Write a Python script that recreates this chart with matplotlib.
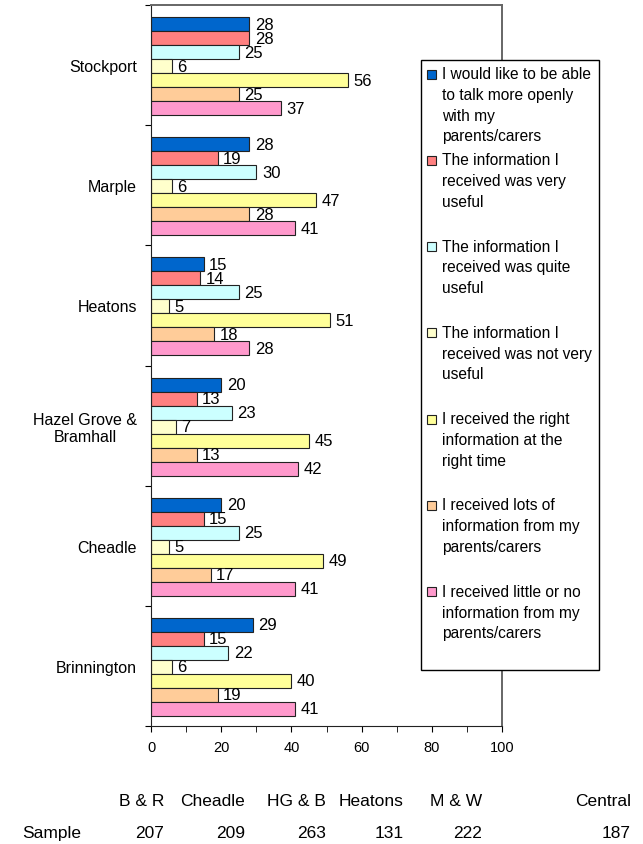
import numpy as np
import matplotlib
matplotlib.use('Agg')
import matplotlib.pyplot as plt
from matplotlib.patches import Rectangle

plt.rcParams['font.family'] = ['Liberation Sans', 'DejaVu Sans']

# Areas, top to bottom as drawn
areas = ['Stockport', 'Marple', 'Heatons', 'Hazel Grove &\nBramhall', 'Cheadle', 'Brinnington']

# Series (percent), one value per area, same order as areas
talk_openly = [28, 28, 15, 20, 20, 29]
very_useful = [28, 19, 14, 13, 15, 15]
quite_useful = [25, 30, 25, 23, 25, 22]
not_very_useful = [6, 6, 5, 7, 5, 6]
right_time = [56, 47, 51, 45, 49, 40]
lots_info = [25, 28, 18, 13, 17, 19]
little_info = [37, 41, 28, 42, 41, 41]

series_labels = [
    'I would like to be able\nto talk more openly\nwith my\nparents/carers',
    'The information I\nreceived was very\nuseful',
    'The information I\nreceived was quite\nuseful',
    'The information I\nreceived was not very\nuseful',
    'I received the right\ninformation at the\nright time',
    'I received lots of\ninformation from my\nparents/carers',
    'I received little or no\ninformation from my\nparents/carers',
]
colors = ['#0066CC', '#FF8080', '#CCFFFF', '#FFFFCC', '#FFFF99', '#FFCC99', '#FF99CC']

# Sample size table under the chart
sample_areas = ['B & R', 'Cheadle', 'HG & B', 'Heatons', 'M & W', 'Central']
sample_sizes = [207, 209, 263, 131, 222, 187]

series = [talk_openly, very_useful, quite_useful, not_very_useful,
          right_time, lots_info, little_info]

W, H = 643, 845
fig = plt.figure(figsize=(W / 100, H / 100), dpi=100)
ax = fig.add_axes([151 / W, 1 - 727 / H, (502 - 151) / W, (727 - 6) / H])

n = len(areas)
bar_h = 14 / 120
top_gap = 12 / 120
base = np.arange(n)
for k, vals in enumerate(series):
    y = base + top_gap + bar_h * (k + 0.5)
    bars = ax.barh(y, vals, height=bar_h, color=colors[k],
                   edgecolor='#222222', linewidth=0.8)
    ax.bar_label(bars, padding=4, fontsize=12)

ax.set_ylim(n, 0)
ax.set_xlim(0, 100)

# boundaries get tick marks, names sit at group centres
ax.set_yticks(np.arange(n + 1))
ax.set_yticklabels([])
ax.set_yticks(base + 0.5, minor=True)
ax.set_yticklabels(areas, minor=True, fontsize=11.5, multialignment='center')
ax.tick_params(axis='y', which='major', direction='out', length=4)
ax.tick_params(axis='y', which='minor', length=0, pad=10)

ax.set_xticks(np.arange(0, 101, 20))
ax.set_xticks(np.arange(0, 101, 10), minor=True)
ax.tick_params(axis='x', which='both', direction='out', length=4, labelsize=10.5, pad=6)

for s in ['left', 'bottom']:
    ax.spines[s].set_color('#222222')
for s in ['top', 'right']:
    ax.spines[s].set_color('#666666')
    ax.spines[s].set_linewidth(1.4)

# legend box, drawn by hand
lx0, lx1, ly0, ly1 = 421, 599, 61, 671
fig.patches.append(Rectangle((lx0 / W, 1 - ly1 / H), (lx1 - lx0) / W, (ly1 - ly0) / H,
                             transform=fig.transFigure, facecolor='white',
                             edgecolor='black', linewidth=1, zorder=5))
for k, lab in enumerate(series_labels):
    yc = 75 + 86.3 * k
    fig.patches.append(Rectangle((427 / W, 1 - (yc + 4.5) / H), 9 / W, 9 / H,
                                 transform=fig.transFigure, facecolor=colors[k],
                                 edgecolor='#222222', linewidth=0.8, zorder=6))
    fig.text(442 / W, 1 - (yc - 8) / H, lab, fontsize=11.2, va='top', ha='left',
             linespacing=1.48, zorder=7)

# sample table
right_edges = [164, 245, 326, 404, 482, 631]
for name, size, xr in zip(sample_areas, sample_sizes, right_edges):
    fig.text(xr / W, 1 - 802 / H, name, fontsize=12.5, ha='right', va='center')
    fig.text(xr / W, 1 - 834 / H, str(size), fontsize=12.5, ha='right', va='center')
fig.text(22 / W, 1 - 834 / H, 'Sample', fontsize=12.5, ha='left', va='center')

fig.savefig('out.png', dpi=100)
